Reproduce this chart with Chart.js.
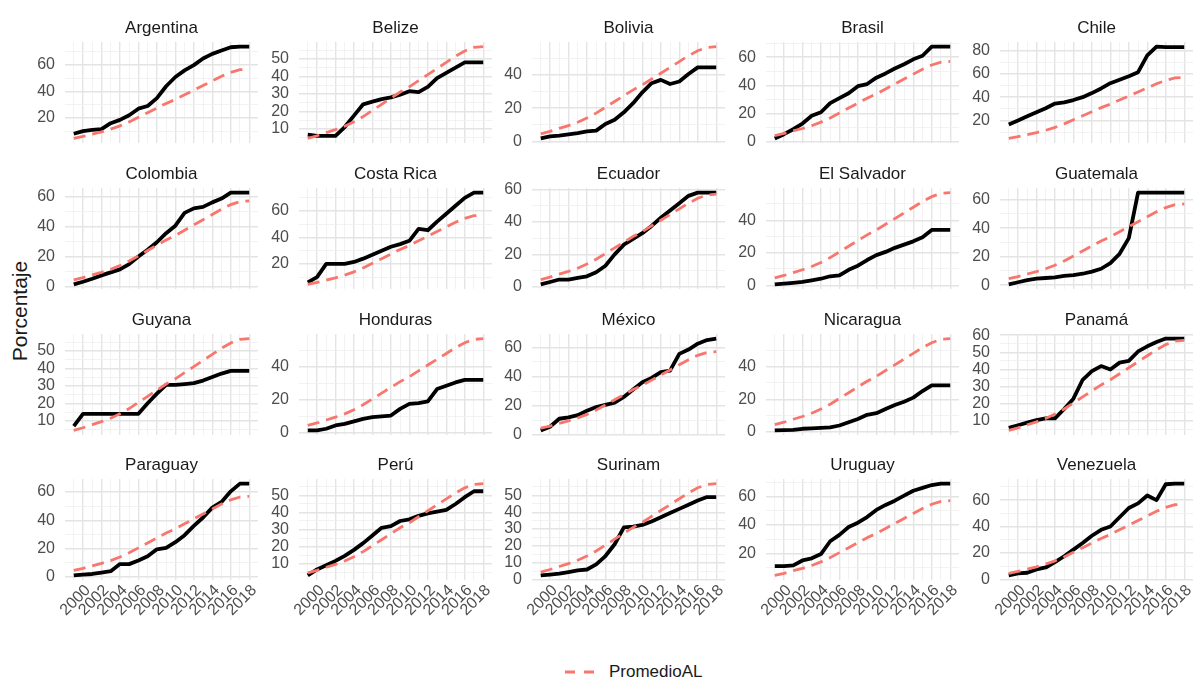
<!DOCTYPE html>
<html>
<head>
<meta charset="utf-8">
<script src="https://cdn.jsdelivr.net/npm/chart.js@4.4.1/dist/chart.umd.min.js"></script>
<style>
  body { margin: 0; background: #fff; width: 1196px; height: 680px; position: relative; overflow: hidden;
         font-family: "Liberation Sans", Arial, sans-serif; }
  canvas { position: absolute; }
  #ytitle { position: absolute; left: 20px; top: 311px; transform: translate(-50%, -50%) rotate(-90deg);
            font-size: 21px; color: #1a1a1a; white-space: nowrap; }
  #legend-key { position: absolute; left: 564px; top: 667px; }
  #legend-text { position: absolute; left: 609px; top: 662px; font-size: 17px; line-height: 20px; color: #1a1a1a; }
</style>
</head>
<body>
<div id="ytitle">Porcentaje</div>
<svg id="legend-key" width="32" height="10"><line x1="1" y1="5" x2="31" y2="5" stroke="#F8766D" stroke-width="2.8" stroke-dasharray="10 9"/></svg>
<div id="legend-text">PromedioAL</div>
<script>
const years = [1999, 2000, 2001, 2002, 2003, 2004, 2005, 2006, 2007, 2008,
               2009, 2010, 2011, 2012, 2013, 2014, 2015, 2016, 2017, 2018];
const xLabels = [2000, 2002, 2004, 2006, 2008, 2010, 2012, 2014, 2016, 2018];

const countries = ["Argentina", "Belize", "Bolivia", "Brasil", "Chile",
                   "Colombia", "Costa Rica", "Ecuador", "El Salvador", "Guatemala",
                   "Guyana", "Honduras", "México", "Nicaragua", "Panamá",
                   "Paraguay", "Perú", "Surinam", "Uruguay", "Venezuela"];

// promedio latinoamericano (linea roja)
const promedioAL = [4.5, 6, 7.8, 9.5, 11.5, 14, 17, 20.5, 24, 27.5, 31, 34, 37.5, 41, 44.5, 48, 51.5, 54.5, 56.5, 57];

const argentina  = [8, 10, 11, 11.5, 16, 18.5, 22, 27, 29, 35, 44, 51, 56, 60, 65, 68.5, 71, 73.5, 74, 74];
const belize     = [6.7, 6, 6, 6, 11, 17.5, 24, 25.5, 27, 28, 29.5, 31.5, 31, 34, 39, 42, 45, 48, 48, 48];
const bolivia    = [1.8, 3, 3.5, 4.2, 5, 6, 6.5, 10.5, 13, 17.5, 23, 29.5, 35, 37, 34.5, 36, 40.5, 44.5, 44.5, 44.5];
const brasil     = [2.5, 5.5, 9, 13, 18.5, 21, 27.5, 31, 34.5, 39.5, 41, 45.5, 48.5, 52, 55, 58.5, 61, 67.5, 67.5, 67.5];
const chile      = [16.5, 20, 23.5, 27, 30.5, 34.5, 35.5, 37.5, 40, 43.5, 47.5, 52, 55, 58, 61.5, 76, 83.5, 83, 83, 83];
const colombia   = [1.5, 3.3, 5.3, 7.5, 9.5, 11.5, 15, 20, 24.5, 29.5, 35.5, 40.5, 49, 52, 53, 56, 58.5, 62.5, 62.5, 62.5];
const costaRica  = [6, 10, 20, 20, 20, 21.5, 24, 27, 30, 33, 35, 37.5, 46.5, 45.5, 52, 58, 64, 70, 74, 74];
const ecuador    = [1.5, 3, 4.5, 4.5, 5.5, 6.5, 9, 13, 20, 26, 29.5, 33, 37.5, 42.5, 47, 51.5, 56, 58, 58, 58];
const elSalvador = [0.5, 1, 1.5, 2, 3, 4, 5.5, 6, 9.5, 12, 15.5, 18.5, 20.5, 23, 25, 27, 29.5, 34, 34, 34];
const guatemala  = [0.5, 2, 3.5, 4.5, 5, 5.5, 6.5, 7, 8, 9.5, 11.5, 15.5, 22, 33, 65, 65, 65, 65, 65, 65];
const guyana     = [7, 14, 14, 14, 14, 14, 14, 14, 20, 25.5, 30.5, 30.5, 31, 31.5, 33, 35, 37, 38.5, 38.5, 38.5];
const honduras   = [1.5, 1.5, 2.5, 4.5, 5.5, 7, 8.5, 9.5, 10, 10.5, 14.5, 17.5, 18, 19, 26.5, 28.5, 30.5, 32, 32, 32];
const mexico     = [3, 5.5, 11, 12, 13.5, 16.5, 19, 20.5, 22, 26, 31, 36, 39, 43, 44, 55.5, 58.5, 62.5, 65, 66];
const nicaragua  = [1, 1.2, 1.3, 2, 2.3, 2.5, 2.8, 4, 6, 8, 10.5, 11.5, 14, 16.5, 18.5, 21, 25, 28.5, 28.5, 28.5];
const panama     = [6, 7.5, 9, 10.5, 11.5, 11.5, 17, 23, 34, 39, 42, 40, 44, 45, 50.5, 53.5, 56, 58, 58, 58];
const paraguay   = [1, 1.5, 2, 3, 4, 9, 9, 11.5, 14.5, 19.5, 20.5, 24.5, 29.5, 36, 42, 49, 53, 60.5, 66, 66];
const peru       = [3, 6.5, 9, 11.5, 14.5, 18, 22, 26.5, 31, 32, 35, 36, 38, 39.5, 40.5, 41.5, 45, 49, 52.5, 52.5];
const surinam    = [2.5, 3, 3.5, 4.5, 5.5, 6, 9, 14, 21, 31, 31.5, 32.5, 34.5, 37, 39.5, 42, 44.5, 47, 49, 49];
const uruguay    = [11, 11, 11.5, 15, 16.5, 19.5, 28.5, 33, 38.5, 41.5, 45.5, 50.5, 54, 57, 60.5, 64, 66, 68, 69, 69];
const venezuela  = [3, 4.5, 5, 7.5, 9, 13, 17.5, 22.5, 27.5, 33, 37.5, 40, 47, 54, 57.5, 63.5, 60, 72, 72.5, 72.5];

const countryValues = [argentina, belize, bolivia, brasil, chile,
                       colombia, costaRica, ecuador, elSalvador, guatemala,
                       guyana, honduras, mexico, nicaragua, panama,
                       paraguay, peru, surinam, uruguay, venezuela];

// separacion entre etiquetas del eje y en cada panel
const yStep = [20, 10, 20, 20, 20,
               20, 20, 20, 20, 20,
               10, 20, 20, 20, 10,
               20, 10, 10, 20, 20];

const FONT = '"Liberation Sans", Arial, sans-serif';
const COL_X = [65, 299, 532, 766, 1000];
const ROW_Y = [42, 188, 334, 479];
const PANEL_W = 193, PANEL_H = 101;
const YW = 60, TH = 26;

function gridColor(major) { return major ? "#e4e4e4" : "#efefef"; }
function gridWidth(major) { return major ? 1.4 : 0.8; }

function makePanel(idx) {
  const col = idx % 5, row = Math.floor(idx / 5);
  const bottomRow = row === 3;
  const XH = bottomRow ? 50 : 12;   // espacio libre debajo para que no se corte el "0"
  const w = YW + PANEL_W, h = TH + PANEL_H + XH;

  const canvas = document.createElement("canvas");
  canvas.width = w; canvas.height = h;
  canvas.style.width = w + "px"; canvas.style.height = h + "px";
  canvas.style.left = (COL_X[col] - YW) + "px";
  canvas.style.top = (ROW_Y[row] - TH) + "px";
  document.body.appendChild(canvas);

  const vals = countryValues[idx];
  const all = vals.concat(promedioAL);
  const lo = Math.min(...all), hi = Math.max(...all);
  const pad = (hi - lo) * 0.05;
  const yMin = lo - pad, yMax = hi + pad;
  const major = yStep[idx], minor = major / 2;

  new Chart(canvas, {
    type: "line",
    data: {
      datasets: [
        {
          label: "PromedioAL",
          data: years.map((yr, i) => ({ x: yr, y: promedioAL[i] })),
          borderColor: "#F8766D",
          borderWidth: 2.8,
          borderDash: [12, 7],
          pointRadius: 0,
          tension: 0,
        },
        {
          label: countries[idx],
          data: years.map((yr, i) => ({ x: yr, y: vals[i] })),
          borderColor: "#000000",
          borderWidth: 3.8,
          borderJoinStyle: "round",
          pointRadius: 0,
          tension: 0,
        },
      ],
    },
    options: {
      responsive: false,
      animation: false,
      devicePixelRatio: 1,
      events: [],
      layout: { padding: 0, autoPadding: false },
      plugins: {
        legend: { display: false },
        tooltip: { enabled: false },
        title: {
          display: true,
          text: countries[idx],
          fullSize: false,
          color: "#1a1a1a",
          font: { family: FONT, size: 17, weight: "normal", lineHeight: "20px" },
          padding: { top: 2, bottom: 4 },
        },
      },
      scales: {
        x: {
          type: "linear",
          min: years[0] - 0.95,
          max: years[years.length - 1] + 0.95,
          afterBuildTicks: (s) => { s.ticks = years.map((v) => ({ value: v })); },
          afterFit: (s) => { s.height = XH; s.paddingLeft = 0; s.paddingRight = 0; },
          border: { display: false },
          grid: {
            drawTicks: false,
            color: (ctx) => gridColor(ctx.tick && ctx.tick.value % 2 === 0),
            lineWidth: (ctx) => gridWidth(ctx.tick && ctx.tick.value % 2 === 0),
          },
          ticks: {
            display: bottomRow,
            autoSkip: false,
            minRotation: 45,
            maxRotation: 45,
            padding: 1,
            labelOffset: 5,
            color: "#4d4d4d",
            font: { family: FONT, size: 16 },
            callback: (v) => (xLabels.includes(v) ? String(v) : ""),
          },
        },
        y: {
          type: "linear",
          min: yMin,
          max: yMax,
          afterBuildTicks: (s) => {
            const t = [];
            for (let v = Math.ceil(yMin / minor) * minor; v <= yMax; v += minor) t.push({ value: v });
            s.ticks = t;
          },
          afterFit: (s) => { s.width = YW; s.paddingTop = 0; s.paddingBottom = 0; },
          border: { display: false },
          grid: {
            drawTicks: false,
            color: (ctx) => gridColor(ctx.tick && ctx.tick.value % major === 0),
            lineWidth: (ctx) => gridWidth(ctx.tick && ctx.tick.value % major === 0),
          },
          ticks: {
            autoSkip: false,
            padding: 10,
            color: "#4d4d4d",
            font: { family: FONT, size: 16 },
            callback: (v) => (v % major === 0 ? String(v) : ""),
          },
        },
      },
    },
  });
}

countries.forEach((c, i) => makePanel(i));
</script>
</body>
</html>
